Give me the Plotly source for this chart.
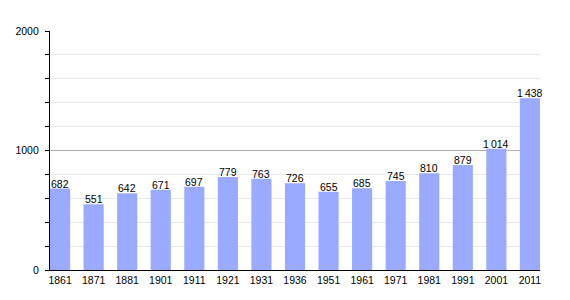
import plotly.graph_objects as go

years = ["1861", "1871", "1881", "1901", "1911", "1921", "1931", "1936", "1951",
         "1961", "1971", "1981", "1991", "2001", "2011"]
population = [682, 551, 642, 671, 697, 779, 763, 726, 655, 685, 745, 810, 879, 1014, 1438]
labels = ["682", "551", "642", "671", "697", "779", "763", "726", "655", "685",
          "745", "810", "879", "1\u2009014", "1\u2009438"]
y_ticks = [0, 1000, 2000]

xs = list(range(len(years)))
fig = go.Figure(go.Bar(
    x=xs,
    y=population,
    marker=dict(color="#99aaff", line=dict(width=0)),
    width=0.6,
))

for x, y, t in zip(xs, population, labels):
    fig.add_annotation(x=x, y=y, text=t, showarrow=False, yanchor="bottom",
                       yshift=-3, font=dict(family="Liberation Sans, Arial", size=10.5, color="#000"))

fig.update_layout(
    width=570, height=300,
    margin=dict(l=50, r=30, t=31, b=30),
    paper_bgcolor="white", plot_bgcolor="white",
    showlegend=False,
    font=dict(family="Liberation Sans, Arial", size=10.5, color="#000"),
    xaxis=dict(
        tickmode="array", tickvals=xs, ticktext=years,
        range=[-0.3, len(years) - 0.7],
        showgrid=False, showline=True, linecolor="#000", linewidth=1.2,
        ticks="", zeroline=False,
    ),
    yaxis=dict(
        range=[0, 2000], tickmode="array", tickvals=y_ticks,
        showgrid=True, gridcolor="#b0b0b0", gridwidth=1,
        showline=True, linecolor="#000", linewidth=1.2,
        ticks="outside", ticklen=4, tickcolor="#000",
        ticklabelstandoff=4,
        zeroline=False,
        minor=dict(dtick=200, showgrid=True, gridcolor="#e8e8e8",
                   ticks="outside", ticklen=4, tickcolor="#000"),
    ),
)

fig.write_html("out.html")
